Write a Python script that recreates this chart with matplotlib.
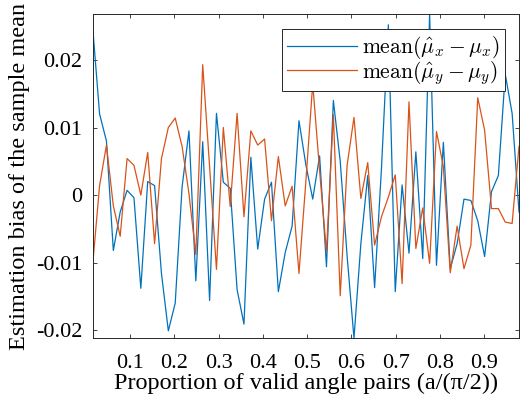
import numpy as np
import matplotlib
matplotlib.use("Agg")
import matplotlib.pyplot as plt

# Data
bias_x = [0.0248, 0.0120, 0.0080, -0.0082, -0.0025, 0.0007, -0.0004, -0.0138, 0.0020, 0.0014,
          -0.0116, -0.0201, -0.0160, 0.0012, 0.0095, -0.0127, 0.0079, -0.0156, 0.0121, 0.0019,
          0.0010, -0.0140, -0.0191, 0.0056, -0.0080, -0.0006, 0.0019, -0.0143, -0.0085, -0.0046,
          0.0110, 0.0045, -0.0006, 0.0058, -0.0106, 0.0140, 0.0050, -0.0090, -0.0212, -0.0072,
          0.0029, -0.0137, 0.0040, 0.0252, -0.0143, 0.0015, -0.0086, 0.0064, -0.0094, 0.0268,
          -0.0104, 0.0078, -0.0109, -0.0072, -0.0006, -0.0008, -0.0038, -0.0091, 0.0005, 0.0029,
          0.0179, 0.0121, -0.0025]
bias_y = [-0.0103, 0.0014, 0.0074, -0.0016, -0.0061, 0.0054, 0.0044, 0.0000, 0.0063, -0.0072,
          0.0054, 0.0100, 0.0114, 0.0072, 0.0002, -0.0088, 0.0193, 0.0042, -0.0110, 0.0100,
          -0.0017, 0.0121, -0.0032, 0.0095, 0.0074, 0.0083, -0.0038, 0.0057, -0.0016, 0.0013,
          -0.0116, 0.0020, 0.0165, 0.0036, -0.0084, 0.0119, -0.0149, 0.0044, 0.0115, -0.0005,
          0.0048, -0.0074, -0.0032, -0.0003, 0.0030, -0.0131, 0.0138, -0.0079, -0.0019, -0.0101,
          0.0094, 0.0042, -0.0115, -0.0046, -0.0109, -0.0074, 0.0144, 0.0096, -0.0020, -0.0020,
          -0.0040, -0.0042, 0.0072]
x_start, x_end = 0.0158, 0.9784
proportion = np.linspace(x_start, x_end, len(bias_x))
xticks = [0.1, 0.2, 0.3, 0.4, 0.5, 0.6, 0.7, 0.8, 0.9]
xticklabels = ["0.1", "0.2", "0.3", "0.4", "0.5", "0.6", "0.7", "0.8", "0.9"]
yticks = [-0.02, -0.01, 0, 0.01, 0.02]
yticklabels = ["-0.02", "-0.01", "0", "0.01", "0.02"]
labels = [r"$\mathrm{mean}(\hat{\mu}_x-\mu_x)$", r"$\mathrm{mean}(\hat{\mu}_y-\mu_y)$"]

plt.rcParams["font.family"] = ["Liberation Serif", "DejaVu Serif"]
plt.rcParams["mathtext.fontset"] = "cm"
plt.rcParams["axes.unicode_minus"] = False

fig = plt.figure(figsize=(5.2, 4.05), dpi=100)
ax = fig.add_axes([92.7 / 520, (405 - 338.3) / 405, (519 - 92.7) / 520, (338.3 - 14) / 405])

ax.plot(proportion, bias_x, color="#0072BD", lw=0.9, label=labels[0])
ax.plot(proportion, bias_y, color="#D95319", lw=0.9, label=labels[1])

allv = bias_x + bias_y
ax.set_xlim(proportion[0], proportion[-1])
ax.set_ylim(min(allv), max(allv))
ax.set_xticks(xticks)
ax.set_xticklabels(xticklabels)
ax.set_yticks(yticks)
ax.set_yticklabels(yticklabels)
ax.tick_params(direction="in", length=3.2, width=0.6, colors="#262626", labelsize=16,
               top=True, right=True)
ax.tick_params(axis="x", pad=11)
ax.tick_params(axis="y", pad=7.5)
for t in ax.get_xticklabels() + ax.get_yticklabels():
    t.set_color("black")
for s in ax.spines.values():
    s.set_color("#262626")
    s.set_linewidth(0.7)

ax.set_xlabel("Proportion of valid angle pairs (a/(\u03c0/2))", fontsize=17.5, labelpad=0.5)
ax.set_ylabel("Estimation bias of the sample mean", fontsize=17.5, labelpad=4)

leg = ax.legend(loc="upper right", bbox_to_anchor=(0.967, 0.9528), borderaxespad=0,
                fontsize=15.5, frameon=True, fancybox=False, framealpha=1, edgecolor="#262626",
                handlelength=3.25, handletextpad=0.23, borderpad=0.23, labelspacing=-0.12)
leg.get_frame().set_linewidth(0.7)

fig.savefig("out.png", dpi=100, facecolor="white")
